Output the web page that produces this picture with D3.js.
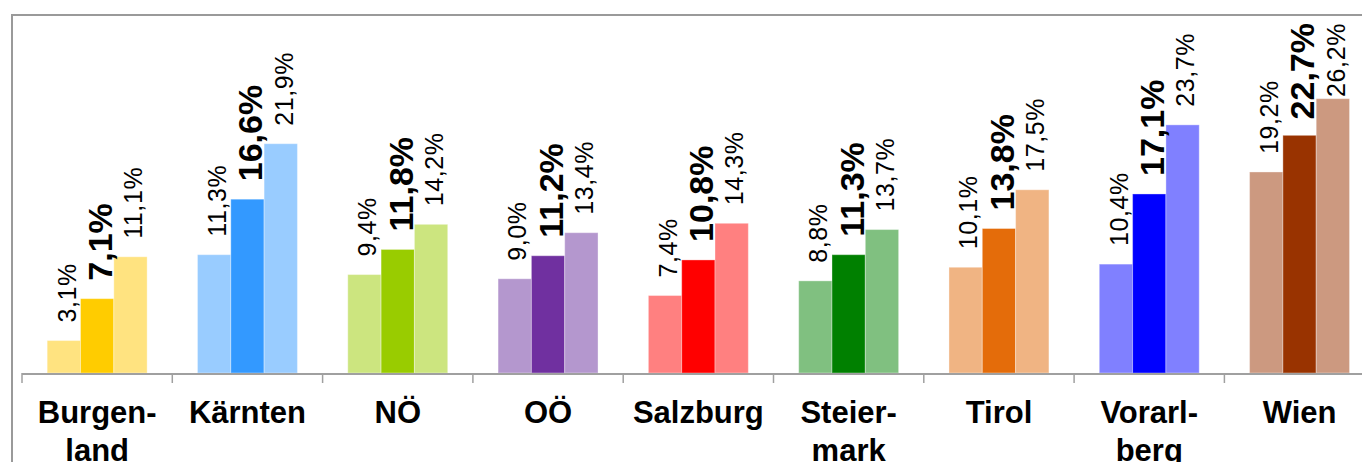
<!DOCTYPE html>
<html>
<head>
<meta charset="utf-8">
<script src="https://cdn.jsdelivr.net/npm/d3@7"></script>
<style>
  html, body { margin: 0; padding: 0; background: #fff; overflow: hidden; }
  svg { display: block; font-family: "Liberation Sans", Arial, sans-serif; }
</style>
</head>
<body>
<svg id="chart" width="1362" height="462"></svg>
<script>
// Regions (Bundesländer) and their axis label lines
const categories = ["Burgenland", "Kärnten", "NÖ", "OÖ", "Salzburg", "Steiermark", "Tirol", "Vorarlberg", "Wien"];
const categoryLines = [["Burgen-", "land"], ["Kärnten"], ["NÖ"], ["OÖ"], ["Salzburg"], ["Steier-", "mark"], ["Tirol"], ["Vorarl-", "berg"], ["Wien"]];

// Three values per region: lower bound, estimate, upper bound (%)
const lowValues  = [3.1, 11.3, 9.4, 9.0, 7.4, 8.8, 10.1, 10.4, 19.2];
const midValues  = [7.1, 16.6, 11.8, 11.2, 10.8, 11.3, 13.8, 17.1, 22.7];
const highValues = [11.1, 21.9, 14.2, 13.4, 14.3, 13.7, 17.5, 23.7, 26.2];
const seriesKeys = ["low", "mid", "high"];

// Colours per region: strong tone for the estimate, pale tone for the bounds
const strongColors = ["#FFCC00", "#3399FF", "#99CC00", "#7030A0", "#FF0000", "#008000", "#E46C0A", "#0000FF", "#993300"];
const paleColors   = ["#FFE380", "#99CCFF", "#CCE57F", "#B497CE", "#FF8080", "#80C080", "#F0B483", "#8080FF", "#CC9980"];

const svg = d3.select("#chart");

const baseY = 373;
const plotTop = 23;
const axisLeft = 22;
const step = 150.3;

const x = d3.scaleBand()
  .domain(categories)
  .range([axisLeft, axisLeft + step * categories.length])
  .paddingInner(0.335)
  .paddingOuter(0.1675);

const xs = d3.scaleBand()
  .domain(seriesKeys)
  .range([0, x.bandwidth()]);

const y = d3.scaleLinear()
  .domain([0, 34])
  .range([baseY, baseY - 34 * 10.47]);

const fmt = v => v.toFixed(1).replace(".", ",") + "%";

const rows = categories.map((c, i) => ({
  cat: c, i,
  values: [
    { key: "low",  v: lowValues[i],  color: paleColors[i] },
    { key: "mid",  v: midValues[i],  color: strongColors[i] },
    { key: "high", v: highValues[i], color: paleColors[i] }
  ]
}));

// Outer chart frame
svg.append("rect")
  .attr("x", 12).attr("y", 15)
  .attr("width", 1400).attr("height", 500)
  .attr("fill", "none")
  .attr("stroke", "#9a9a9a")
  .attr("stroke-width", 2);

// Bars
const groups = svg.append("g").selectAll("g")
  .data(rows).join("g")
  .attr("transform", d => `translate(${x(d.cat)},0)`);

groups.selectAll("rect")
  .data(d => d.values).join("rect")
  .attr("x", d => xs(d.key))
  .attr("width", xs.bandwidth())
  .attr("y", d => y(d.v))
  .attr("height", d => baseY - y(d.v))
  .attr("fill", d => d.color)
  .attr("stroke", "rgba(255,255,255,0.35)")
  .attr("stroke-width", 1);

// Value labels, rotated, kept inside the plot area
const labelGap = 18;
groups.selectAll("text")
  .data(d => d.values).join("text")
  .text(d => fmt(d.v))
  .attr("font-size", d => d.key === "mid" ? 34 : 25)
  .attr("font-weight", d => d.key === "mid" ? "bold" : "normal")
  .attr("letter-spacing", d => d.key === "mid" ? 0 : 0.6)
  .attr("fill", "#000")
  .attr("text-anchor", "start")
  .attr("dy", "0.35em")
  .each(function (d) {
    const len = this.getComputedTextLength();
    let start = y(d.v) - labelGap;
    if (start - len < plotTop) start = plotTop + len;
    const cx = xs(d.key) + xs.bandwidth() / 2 + 3;
    d3.select(this).attr("transform", `translate(${cx},${start}) rotate(-90)`);
  });

// Category axis: line, ticks between categories, labels
const axis = svg.append("g");
axis.append("line")
  .attr("x1", axisLeft).attr("x2", axisLeft + step * categories.length)
  .attr("y1", baseY + 1).attr("y2", baseY + 1)
  .attr("stroke", "#a0a0a0").attr("stroke-width", 2);

const boundaries = categories.map(c => x(c) - (x.step() - x.bandwidth()) / 2);
axis.selectAll("line.tick")
  .data(boundaries).join("line")
  .attr("class", "tick")
  .attr("x1", d => d).attr("x2", d => d)
  .attr("y1", baseY).attr("y2", baseY + 10)
  .attr("stroke", "#a0a0a0").attr("stroke-width", 1.5);

const xAxis = d3.axisBottom(x).tickSize(0).tickFormat("");
const xAxisG = svg.append("g").attr("transform", `translate(0,${baseY})`).call(xAxis);
xAxisG.select(".domain").remove();

xAxisG.selectAll(".tick").each(function (c) {
  const lines = categoryLines[categories.indexOf(c)];
  const t = d3.select(this).append("text")
    .attr("text-anchor", "middle")
    .attr("font-size", 31)
    .attr("font-weight", "bold")
    .attr("fill", "#000")
    .attr("y", 50);
  lines.forEach((ln, k) => {
    t.append("tspan").attr("x", 0).attr("y", 50 + k * 38).text(ln);
  });
});
</script>
</body>
</html>
